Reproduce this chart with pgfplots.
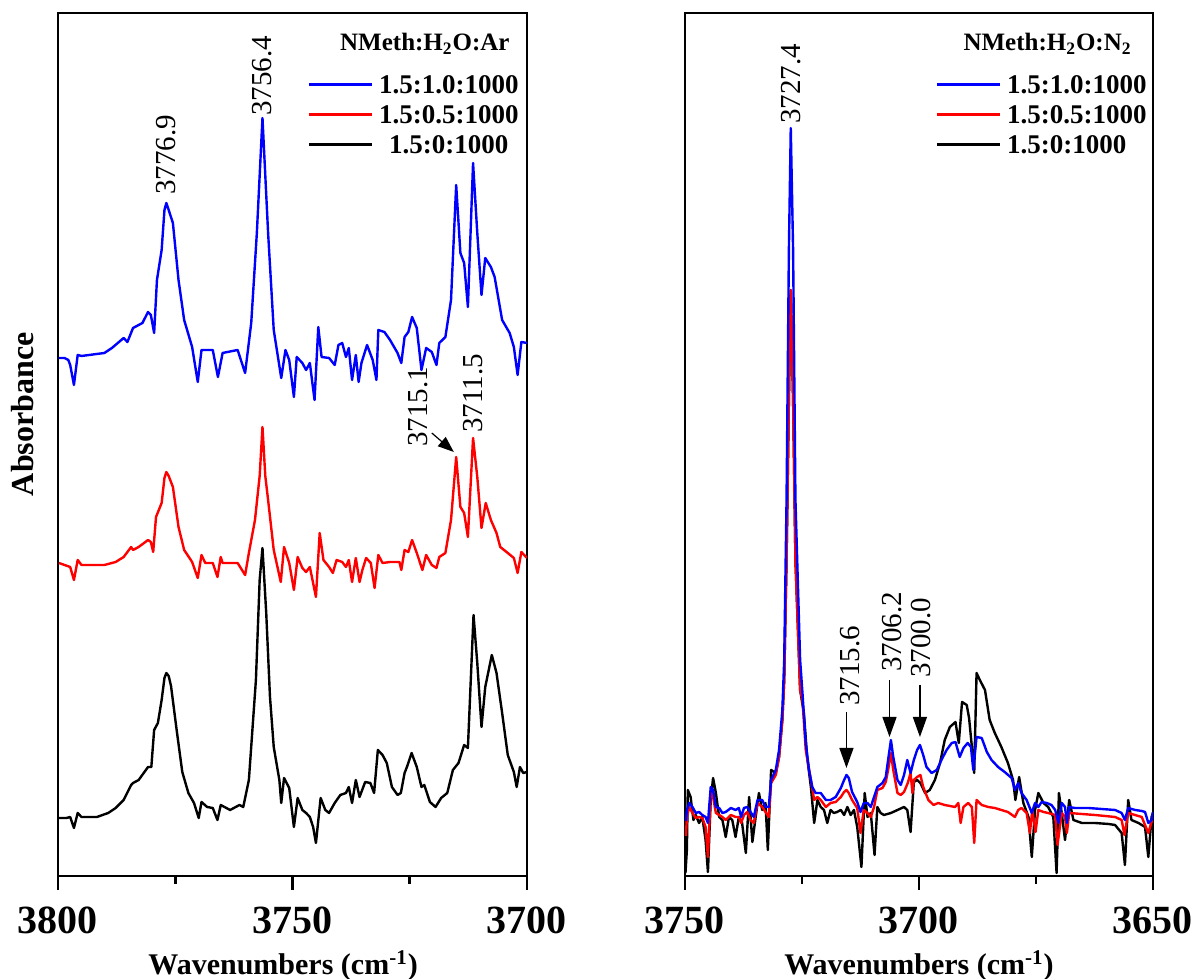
\documentclass[border=0pt]{standalone}
\usepackage{fontspec}
\setmainfont{Liberation Serif}
\usepackage{pgfplots}
\pgfplotsset{compat=1.18}
\usetikzlibrary{arrows.meta}

\tikzset{
  plab/.style={font=\fontsize{14.5}{17}\selectfont, rotate=90, anchor=west, inner sep=0pt},
  ltitle/.style={font=\fontsize{12.5}{14}\selectfont\bfseries, anchor=base east, inner sep=0pt},
}
\pgfplotsset{
  spec/.style={
    scale only axis, x dir=reverse, ymin=0, ymax=863, height=431.5pt,
    axis line style={line width=1.3pt},
    tick style={line width=1.3pt, black},
    tick align=outside, xtick pos=left, ytick=\empty,
    major tick length=7pt, minor tick length=4pt,
    /pgf/number format/assume math mode=true,
    /pgf/number format/1000 sep={},
    xticklabel style={font=\fontsize{20}{24}\selectfont\bfseries, inner sep=0pt, anchor=north, yshift=-8.5pt},
    xlabel style={font=\fontsize{15}{18}\selectfont\bfseries, anchor=center},
    ylabel style={font=\fontsize{16}{19}\selectfont\bfseries, anchor=center},
    legend style={anchor=north east, draw=none, fill=none, inner sep=0pt,
      row sep=5.5pt, font=\fontsize{13.5}{15}\selectfont\bfseries,
      nodes={inner sep=0pt, text height=9.5pt, text depth=0pt},
      /tikz/every odd column/.append style={column sep=3pt}},
    legend image code/.code={\draw[##1] (0pt,0pt) -- (31.5pt,0pt);},
    every axis plot/.append style={line width=1.2pt, line join=round},
  }
}

\begin{document}
\begin{tikzpicture}
\path[use as bounding box] (0,0) rectangle (600.5pt,489.5pt);

% ---------------- left panel ----------------
\begin{axis}[spec, at={(29pt,51.5pt)}, anchor=south west, width=234.5pt,
  xmin=3700, xmax=3800, xtick={3800,3750,3700}, minor xtick={3775,3725},
  xlabel={Wavenumbers (cm\textsuperscript{-1})},
  xlabel style={at={(axis description cs:0.48,0)}, yshift=-45pt},
  ylabel={Absorbance},
  ylabel style={at={(axis description cs:0,0.535)}, yshift=17.5pt},
  legend cell align=center,
  legend style={at={(axis description cs:1,1)}, xshift=-4pt, yshift=-30.75pt}]

\addlegendimage{blue, line width=1.2pt}\addlegendentry{1.5:1.0:1000}
\addlegendimage{red, line width=1.2pt}\addlegendentry{1.5:0.5:1000}
\addlegendimage{black, line width=1.2pt}\addlegendentry{1.5:0:1000}

\addplot[black, forget plot] coordinates {
(3799.8,58)(3798.2,58)(3797.4,59)(3796.6,48)(3795.8,63)(3795.0,59)(3791.7,59)(3789.3,63)(3787.7,68)(3786.0,76)(3784.4,91)(3784.0,93)(3782.8,96)(3780.8,109)(3780.1,109)(3779.5,146)(3778.7,153)(3777.9,176)(3777.3,198)(3776.9,203)(3776.4,200)(3775.9,190)(3774.7,146)(3773.5,104)(3772.2,83)(3771.0,73)(3770.0,58)(3769.4,74)(3768.2,69)(3767.0,68)(3766.0,56)(3765.3,71)(3763.3,66)(3761.3,71)(3760.5,69)(3759.3,96)(3757.8,196)(3757.0,296)(3756.4,328)(3755.6,263)(3754.8,179)(3754.0,129)(3752.8,96)(3752.4,73)(3751.8,98)(3750.7,88)(3749.7,49)(3748.9,78)(3747.9,66)(3747.1,63)(3746.3,59)(3745.6,49)(3745.0,33)(3744.0,78)(3743.0,66)(3742.2,63)(3741.0,73)(3739.8,81)(3738.6,83)(3738.0,89)(3737.3,73)(3736.5,96)(3735.7,79)(3734.5,94)(3733.4,93)(3732.6,83)(3731.8,126)(3730.8,121)(3729.9,113)(3728.8,89)(3727.6,81)(3726.9,83)(3726.1,103)(3725.6,109)(3724.6,123)(3723.5,109)(3722.5,89)(3721.9,91)(3720.7,74)(3719.5,69)(3718.3,78)(3717.0,83)(3715.8,106)(3714.6,113)(3713.4,131)(3712.6,128)(3711.4,261)(3710.6,213)(3709.7,149)(3708.9,189)(3707.5,221)(3706.5,203)(3705.3,163)(3704.1,121)(3702.8,104)(3702.2,89)(3701.5,109)(3700.8,103)(3700.0,104)
};
\addplot[red, forget plot] coordinates {
(3799.8,313)(3797.4,309)(3796.6,296)(3795.8,316)(3795.0,311)(3790.1,311)(3787.7,314)(3786.0,319)(3784.4,329)(3784.0,326)(3782.8,329)(3780.8,336)(3780.2,334)(3779.7,324)(3779.1,359)(3777.9,373)(3777.3,398)(3776.9,404)(3776.4,400)(3775.5,389)(3774.3,349)(3773.1,326)(3771.4,314)(3770.2,298)(3769.4,321)(3768.6,313)(3767.0,313)(3766.0,299)(3765.3,319)(3764.9,313)(3761.7,313)(3760.1,301)(3759.3,323)(3758.0,356)(3757.0,400)(3756.4,449)(3755.8,400)(3755.2,376)(3754.0,326)(3752.5,294)(3751.8,329)(3750.7,313)(3749.7,286)(3748.9,319)(3747.9,308)(3747.1,304)(3746.3,309)(3745.0,279)(3744.2,343)(3743.4,316)(3742.2,309)(3741.4,303)(3740.6,316)(3739.4,314)(3738.6,309)(3738.0,316)(3737.3,294)(3736.5,318)(3735.7,294)(3735.1,306)(3734.3,318)(3733.3,313)(3732.5,288)(3731.7,321)(3730.8,313)(3729.2,314)(3727.2,314)(3726.8,306)(3726.1,326)(3725.3,324)(3724.5,336)(3723.5,323)(3722.3,306)(3721.5,321)(3720.3,311)(3719.3,308)(3718.7,319)(3717.4,323)(3716.2,356)(3715.1,419)(3714.2,369)(3713.4,363)(3712.6,339)(3711.5,438)(3710.6,399)(3709.7,348)(3708.8,373)(3707.7,356)(3706.5,343)(3705.7,329)(3704.1,323)(3702.8,318)(3702.0,303)(3701.2,324)(3700.0,318)
};
\addplot[blue, forget plot] coordinates {
(3799.8,518)(3798.6,518)(3797.8,516)(3797.4,511)(3796.6,491)(3795.8,521)(3795.0,520)(3790.1,523)(3788.5,528)(3786.0,538)(3785.2,534)(3784.0,548)(3782.0,553)(3780.8,564)(3780.2,561)(3779.5,543)(3778.9,596)(3777.9,626)(3777.3,666)(3776.9,673)(3776.4,666)(3775.5,653)(3774.3,596)(3773.1,556)(3771.4,529)(3770.2,494)(3769.4,526)(3767.0,526)(3765.9,499)(3764.9,523)(3761.7,526)(3760.1,503)(3758.8,553)(3757.6,643)(3756.4,758)(3755.2,643)(3754.0,546)(3752.4,498)(3751.5,526)(3750.7,516)(3749.7,479)(3749.1,519)(3747.9,513)(3747.1,506)(3746.3,513)(3745.3,476)(3744.5,549)(3743.8,519)(3742.2,518)(3741.0,511)(3740.2,531)(3739.4,533)(3738.6,519)(3738.0,528)(3737.3,496)(3736.5,521)(3735.9,494)(3735.3,513)(3734.1,531)(3732.9,516)(3732.1,496)(3731.7,546)(3730.4,544)(3729.2,536)(3727.6,523)(3726.8,513)(3726.1,539)(3725.3,544)(3724.5,559)(3723.5,548)(3722.5,506)(3721.5,528)(3720.3,524)(3719.3,511)(3718.7,533)(3717.4,539)(3716.2,576)(3715.1,691)(3714.2,623)(3713.4,613)(3712.6,569)(3711.5,713)(3710.6,643)(3709.7,581)(3708.9,618)(3707.7,609)(3706.9,599)(3705.3,556)(3703.7,543)(3702.8,529)(3702.0,501)(3701.2,534)(3700.0,533)
};

\node[ltitle] at ([xshift=-8.5pt,yshift=-19pt]axis description cs:1,1) {NMeth:H\textsubscript{2}O:Ar};
\node[plab] at (axis cs:3776.9,681) {3776.9};
\node[plab] at (axis cs:3756.4,760) {3756.4};
\node[plab] at (axis cs:3723.2,429) {3715.1};
\node[plab] at (axis cs:3711.5,443) {3711.5};
\draw[line width=0.6pt, -{Triangle[length=8pt,width=6pt]}] (axis cs:3720.3,443) -- (axis cs:3715.6,424);
\end{axis}

% ---------------- right panel ----------------
\begin{axis}[spec, at={(342.5pt,51.5pt)}, anchor=south west, width=234pt,
  xmin=3650, xmax=3750, xtick={3750,3700,3650}, minor xtick={3725,3675},
  xlabel={Wavenumbers (cm\textsuperscript{-1})},
  xlabel style={at={(axis description cs:0.5,0)}, yshift=-45pt},
  legend cell align=left,
  legend style={at={(axis description cs:1,1)}, xshift=-3pt, yshift=-30.75pt}]

\addlegendimage{blue, line width=1.2pt}\addlegendentry{1.5:1.0:1000}
\addlegendimage{red, line width=1.2pt}\addlegendentry{1.5:0.5:1000}
\addlegendimage{black, line width=1.2pt}\addlegendentry{1.5:0:1000}

\addplot[black, forget plot] coordinates {
(3749.9,3)(3749.6,26)(3749.4,86)(3748.8,79)(3748.2,56)(3747.7,61)(3747.0,53)(3746.3,59)(3745.6,36)(3745.1,4)(3744.5,76)(3744.0,98)(3743.4,83)(3742.7,59)(3742.0,56)(3741.3,39)(3740.6,59)(3739.9,56)(3739.2,39)(3738.5,59)(3737.8,53)(3737.0,23)(3736.3,79)(3735.6,34)(3734.9,59)(3734.2,83)(3733.5,66)(3732.8,73)(3732.3,26)(3731.6,106)(3730.6,103)(3729.9,119)(3729.2,156)(3728.8,196)(3728.3,316)(3727.8,476)(3727.4,586)(3726.9,476)(3726.4,316)(3725.4,186)(3724.6,163)(3723.9,119)(3723.1,89)(3722.4,53)(3721.7,76)(3721.0,69)(3720.3,66)(3719.6,53)(3718.9,66)(3718.2,63)(3717.5,64)(3716.7,66)(3716.0,61)(3715.3,69)(3714.6,61)(3713.9,66)(3713.2,49)(3712.3,9)(3711.6,83)(3711.0,59)(3710.3,63)(3709.5,21)(3708.9,69)(3708.2,63)(3707.5,61)(3706.0,63)(3704.6,66)(3703.2,69)(3702.5,66)(3701.8,44)(3701.1,94)(3700.4,96)(3699.7,93)(3698.7,83)(3697.7,86)(3696.6,96)(3695.5,113)(3694.5,136)(3693.4,149)(3692.2,154)(3691.5,133)(3690.8,174)(3689.8,171)(3689.3,158)(3688.7,129)(3688.2,103)(3687.7,203)(3687.0,196)(3685.9,186)(3684.9,156)(3683.8,143)(3682.4,129)(3681.0,113)(3679.9,96)(3679.4,76)(3678.6,99)(3677.7,73)(3676.6,59)(3675.9,19)(3675.2,66)(3674.5,83)(3673.4,73)(3672.4,69)(3671.3,59)(3670.6,3)(3670.1,83)(3669.5,63)(3668.8,36)(3667.9,76)(3667.0,56)(3665.2,53)(3662.4,53)(3659.5,52)(3658.1,51)(3656.7,43)(3656.0,11)(3655.3,76)(3654.6,56)(3653.1,53)(3651.7,49)(3651.0,19)(3650.3,59)(3650.0,63)
};
\addplot[red, forget plot] coordinates {
(3749.8,40)(3749.6,59)(3749.1,69)(3748.4,63)(3747.7,58)(3747.0,59)(3746.3,58)(3745.6,49)(3745.1,19)(3744.5,83)(3744.0,79)(3743.4,63)(3742.7,61)(3742.0,59)(3741.3,56)(3740.2,61)(3739.2,59)(3738.5,59)(3738.0,53)(3737.4,61)(3736.7,64)(3736.0,56)(3735.3,53)(3734.5,73)(3733.5,69)(3732.8,64)(3732.1,59)(3731.6,93)(3730.6,101)(3729.9,119)(3729.2,156)(3728.8,196)(3728.3,316)(3727.8,476)(3727.4,586)(3726.9,476)(3726.4,316)(3725.4,186)(3724.9,176)(3724.2,126)(3723.1,96)(3722.4,76)(3721.7,79)(3721.0,76)(3719.9,69)(3718.9,73)(3717.8,74)(3716.7,79)(3716.0,84)(3715.5,86)(3715.0,83)(3714.3,76)(3713.2,68)(3712.5,43)(3711.8,66)(3711.0,63)(3710.3,59)(3709.6,69)(3708.9,86)(3707.8,88)(3707.1,94)(3706.6,106)(3706.0,123)(3705.5,106)(3704.6,83)(3703.9,81)(3703.2,84)(3702.4,93)(3701.8,103)(3701.4,83)(3701.1,96)(3700.4,99)(3699.7,101)(3699.1,89)(3698.0,76)(3696.9,71)(3695.9,73)(3694.5,71)(3692.3,69)(3691.6,73)(3691.1,53)(3690.5,69)(3689.5,73)(3688.7,69)(3688.2,33)(3687.7,76)(3686.6,71)(3685.2,69)(3683.8,68)(3682.4,66)(3681.0,64)(3679.5,59)(3678.8,66)(3678.1,68)(3677.0,63)(3676.3,43)(3675.8,66)(3675.1,44)(3674.5,66)(3673.4,64)(3672.4,63)(3670.9,61)(3670.4,31)(3669.5,63)(3668.8,59)(3668.4,43)(3667.9,63)(3665.2,62)(3662.4,61)(3658.1,59)(3656.7,56)(3656.1,41)(3655.3,63)(3652.4,59)(3651.0,43)(3650.0,59)
};
\addplot[blue, forget plot] coordinates {
(3749.8,55)(3749.6,66)(3749.1,73)(3748.4,69)(3747.7,63)(3747.0,64)(3746.3,61)(3745.6,59)(3745.1,53)(3744.5,89)(3744.0,86)(3743.4,69)(3742.7,68)(3742.0,63)(3741.3,64)(3740.2,68)(3739.2,66)(3738.5,68)(3738.0,59)(3737.4,68)(3736.7,69)(3736.0,64)(3735.3,59)(3734.5,76)(3733.5,76)(3732.8,69)(3732.1,69)(3731.6,96)(3730.6,106)(3729.9,126)(3729.2,166)(3728.8,216)(3728.3,376)(3727.8,626)(3727.4,748)(3726.9,626)(3726.4,376)(3725.4,216)(3724.9,183)(3724.2,133)(3723.5,106)(3722.8,89)(3722.1,83)(3721.0,83)(3719.9,76)(3718.9,76)(3717.8,79)(3716.7,88)(3716.0,96)(3715.5,101)(3715.0,98)(3714.3,84)(3713.2,74)(3712.5,64)(3711.8,73)(3711.0,73)(3710.3,69)(3709.6,79)(3708.9,89)(3707.8,93)(3707.1,99)(3706.6,116)(3706.0,136)(3705.5,119)(3704.6,96)(3703.9,91)(3703.2,101)(3702.5,116)(3701.8,103)(3701.1,116)(3700.4,126)(3699.8,131)(3699.1,121)(3698.4,109)(3697.3,103)(3696.2,106)(3695.2,116)(3694.1,126)(3693.0,133)(3692.2,134)(3691.3,119)(3690.5,128)(3689.6,133)(3688.9,129)(3688.4,106)(3687.7,139)(3686.6,138)(3685.5,124)(3684.5,116)(3683.1,109)(3681.7,104)(3680.2,98)(3679.5,86)(3678.8,93)(3678.1,83)(3677.0,76)(3675.9,63)(3675.2,73)(3674.5,69)(3673.8,74)(3672.7,73)(3671.7,71)(3670.9,66)(3670.2,53)(3669.5,73)(3668.8,69)(3668.4,53)(3667.9,69)(3666.7,68)(3663.8,68)(3661.0,67)(3658.1,66)(3656.7,63)(3656.0,56)(3655.3,68)(3653.8,66)(3652.4,65)(3651.7,64)(3651.0,53)(3650.3,56)(3650.0,64)
};

\node[ltitle] at ([xshift=-10.5pt,yshift=-19pt]axis description cs:1,1) {NMeth:H\textsubscript{2}O:N\textsubscript{2}};
\node[plab] at (axis cs:3727.4,752) {3727.4};
\node[plab] at (axis cs:3714.8,170) {3715.6};
\node[plab] at (axis cs:3705.8,204) {3706.2};
\node[plab] at (axis cs:3699.6,198) {3700.0};
\draw[line width=0.6pt, -{Triangle[length=10pt,width=7pt]}] (axis cs:3715.5,164) -- (axis cs:3715.5,108);
\draw[line width=0.6pt, -{Triangle[length=10pt,width=7pt]}] (axis cs:3706.3,196) -- (axis cs:3706.3,139);
\draw[line width=0.6pt, -{Triangle[length=10pt,width=7pt]}] (axis cs:3699.8,191) -- (axis cs:3699.8,139);
\end{axis}
\end{tikzpicture}
\end{document}
